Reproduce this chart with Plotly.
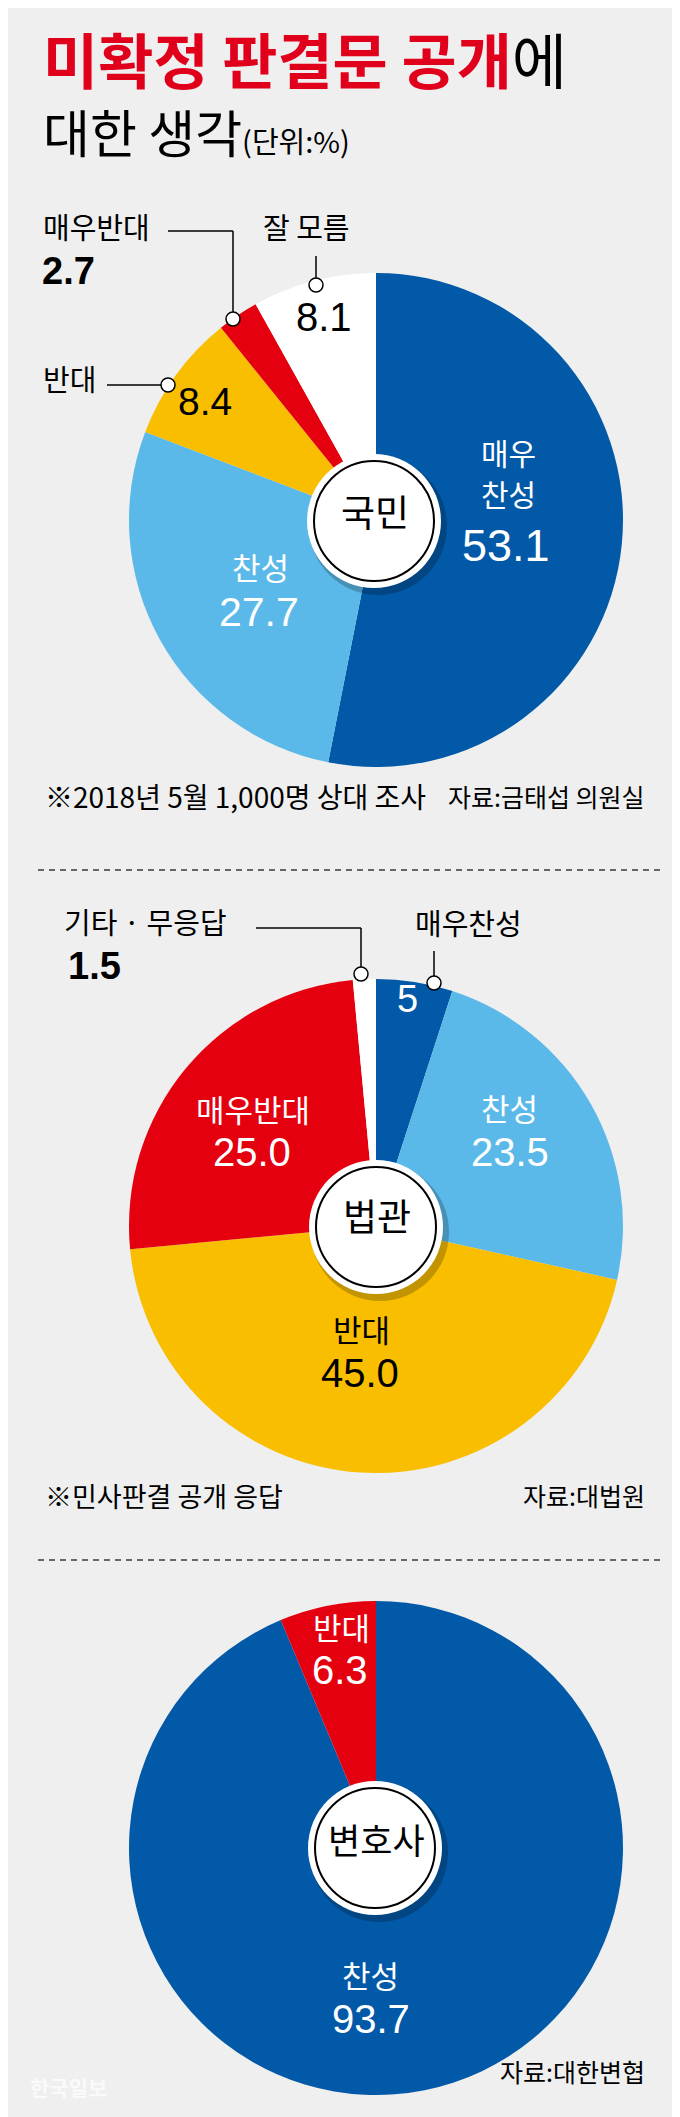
import plotly.graph_objects as go

W, H = 680, 2117

# ---------------- data ----------------
public_labels = ["매우 찬성", "찬성", "반대", "매우반대", "잘 모름"]
public_values = [53.1, 27.7, 8.4, 2.7, 8.1]
public_text = ["53.1", "27.7", "8.4", "2.7", "8.1"]

judge_labels = ["매우찬성", "찬성", "반대", "매우반대", "기타 · 무응답"]
judge_values = [5.0, 23.5, 45.0, 25.0, 1.5]
judge_text = ["5", "23.5", "45.0", "25.0", "1.5"]

lawyer_labels = ["찬성", "반대"]
lawyer_values = [93.7, 6.3]
lawyer_text = ["93.7", "6.3"]

group_names = ["국민", "법관", "변호사"]

# ---------------- styles ----------------
BG = "#EFEFEF"
DARK_BLUE = "#0259A8"
LIGHT_BLUE = "#5BB9E9"
YELLOW = "#F9BE00"
RED = "#E4000F"
WHITE = "#FFFFFF"
KR = "Noto Sans CJK KR"
NUM = "Liberation Sans, Noto Sans CJK KR"

public_colors = [DARK_BLUE, LIGHT_BLUE, YELLOW, RED, WHITE]
judge_colors = [DARK_BLUE, LIGHT_BLUE, YELLOW, RED, WHITE]
lawyer_colors = [DARK_BLUE, RED]

TEXT_SHIFT = 9  # px, compensates font box offset


def px(x):
    return x / W


def py(y):
    return 1 - y / H


R = 247  # pie radius in px
centers = [(368, 512), (368, 1218), (368, 1840)]


def dom(cx, cy):
    return dict(x=[px(cx - R), px(cx + R)], y=[py(cy + R), py(cy - R)])


fig = go.Figure()
for (labels, values, colors), (cx, cy) in zip(
    [(public_labels, public_values, public_colors),
     (judge_labels, judge_values, judge_colors),
     (lawyer_labels, lawyer_values, lawyer_colors)], centers):
    fig.add_trace(go.Pie(
        labels=labels, values=values, sort=False, direction="clockwise",
        rotation=0, textinfo="none", hoverinfo="label+value",
        marker=dict(colors=colors, line=dict(width=0)),
        domain=dom(cx, cy), showlegend=False,
    ))

annotations = []


def ann(text, x, y, size, color="black", family=KR, anchor="center", bold=False):
    if bold:
        text = "<b>" + text + "</b>"
    annotations.append(dict(
        text=text, x=px(x), y=py(y - TEXT_SHIFT), xref="paper", yref="paper",
        xanchor=anchor, yanchor="middle", showarrow=False,
        font=dict(size=size, color=color, family=family),
    ))


# title
ann("<b><span style='color:#E0001B'>미확정 판결문 공개</span></b>에", 33, 58, 60, anchor="left")
ann("대한 생각<span style='font-size:29px'>(단위:%)</span>", 33, 132, 51, anchor="left")

# ---- pie 1: 국민 ----
ann(public_labels[0].split(" ")[0], 500, 453, 30, WHITE)
ann(public_labels[0].split(" ")[1], 500, 494, 30, WHITE)
ann(public_text[0], 498, 547, 45, WHITE, NUM)
ann(public_labels[1], 252, 568, 31, WHITE)
ann(public_text[1], 251, 613, 41, WHITE, NUM)
ann(public_labels[2], 33, 379, 29, anchor="left")
ann(public_text[2], 197, 403, 39, family=NUM)
ann(public_labels[3], 33, 227, 29, anchor="left")
ann(public_text[3], 32, 272, 38, family=NUM, anchor="left", bold=True)
ann(public_labels[4], 253, 227, 29, anchor="left")
ann(public_text[4], 316, 318, 40, family=NUM)
ann("※2018년 5월 1,000명 상대 조사", 35, 797, 28, anchor="left")
ann("자료:금태섭 의원실", 639, 797, 25, anchor="right")

# ---- pie 2: 법관 ----
ann(judge_labels[4], 54, 922, 29, anchor="left")
ann(judge_text[4], 58, 967, 38, family=NUM, anchor="left", bold=True)
ann(judge_labels[0], 405, 923, 29, anchor="left")
ann(judge_text[0], 399, 1000, 38, WHITE, NUM)
ann(judge_labels[1], 501, 1108, 31, WHITE)
ann(judge_text[1], 502, 1153, 40, WHITE, NUM)
ann(judge_labels[3], 245, 1109, 31, WHITE)
ann(judge_text[3], 244, 1153, 40, WHITE, NUM)
ann(judge_labels[2], 353, 1329, 31)
ann(judge_text[2], 352, 1374, 40, family=NUM)
ann("※민사판결 공개 응답", 35, 1496, 27, anchor="left")
ann("자료:대법원", 639, 1496, 25, anchor="right")

# ---- pie 3: 변호사 ----
ann(lawyer_labels[1], 333, 1627, 31, WHITE)
ann(lawyer_text[1], 332, 1671, 40, WHITE, NUM)
ann(lawyer_labels[0], 362, 1975, 31, WHITE)
ann(lawyer_text[0], 363, 2020, 40, WHITE, NUM)
ann("자료:대한변협", 639, 2072, 25, anchor="right")
ann("한국일보", 20, 2088, 21, "#FAFAFA", anchor="left", bold=True)

shapes = []


def line(x0, y0, x1, y1, color="black", width=1.5, dash=None):
    d = dict(type="line", xref="paper", yref="paper", x0=px(x0), y0=py(y0),
             x1=px(x1), y1=py(y1), line=dict(color=color, width=width), layer="above")
    if dash:
        d["line"]["dash"] = dash
    shapes.append(d)


def circle(cx, cy, r, fill, lc=None, lw=0):
    shapes.append(dict(type="circle", xref="paper", yref="paper",
                       x0=px(cx - r), x1=px(cx + r), y0=py(cy + r), y1=py(cy - r),
                       fillcolor=fill, line=dict(color=lc or fill, width=lw), layer="above"))


# leader lines pie 1
line(160, 223, 225, 223)
line(225, 223, 225, 305)
circle(225, 311, 7, WHITE, "black", 1.5)
line(308, 248, 308, 271)
circle(308, 277, 7, WHITE, "black", 1.5)
line(99, 377, 154, 377)
circle(160, 377, 7, WHITE, "black", 1.5)

# leader lines pie 2
line(248, 920, 353, 920)
line(353, 920, 353, 960)
circle(353, 966, 7, WHITE, "black", 1.5)
line(426, 943, 426, 969)
circle(426, 975, 7, WHITE, "black", 1.5)

# center badges
badge_pos = [(366, 513), (368, 1219), (367, 1840)]
badge_font = [37, 37, 35]
badge_text_y = [512, 1216, 1839]
for (cx, cy), name, fs, ty in zip(badge_pos, group_names, badge_font, badge_text_y):
    circle(cx + 4, cy + 5, 69, "rgba(0,0,0,0.22)")
    circle(cx, cy, 67, WHITE)
    circle(cx, cy, 60, WHITE, "black", 2)
    ann(name, cx + 1, ty, fs)

# dashed separators
line(30, 862, 654, 862, "#666666", 2, "6px,5px")
line(30, 1552, 654, 1552, "#666666", 2, "6px,5px")

fig.update_layout(
    width=W, height=H, margin=dict(l=0, r=0, t=0, b=0),
    paper_bgcolor=BG, plot_bgcolor=BG,
    annotations=annotations, shapes=shapes, showlegend=False,
)

fig.write_html("out.html")
